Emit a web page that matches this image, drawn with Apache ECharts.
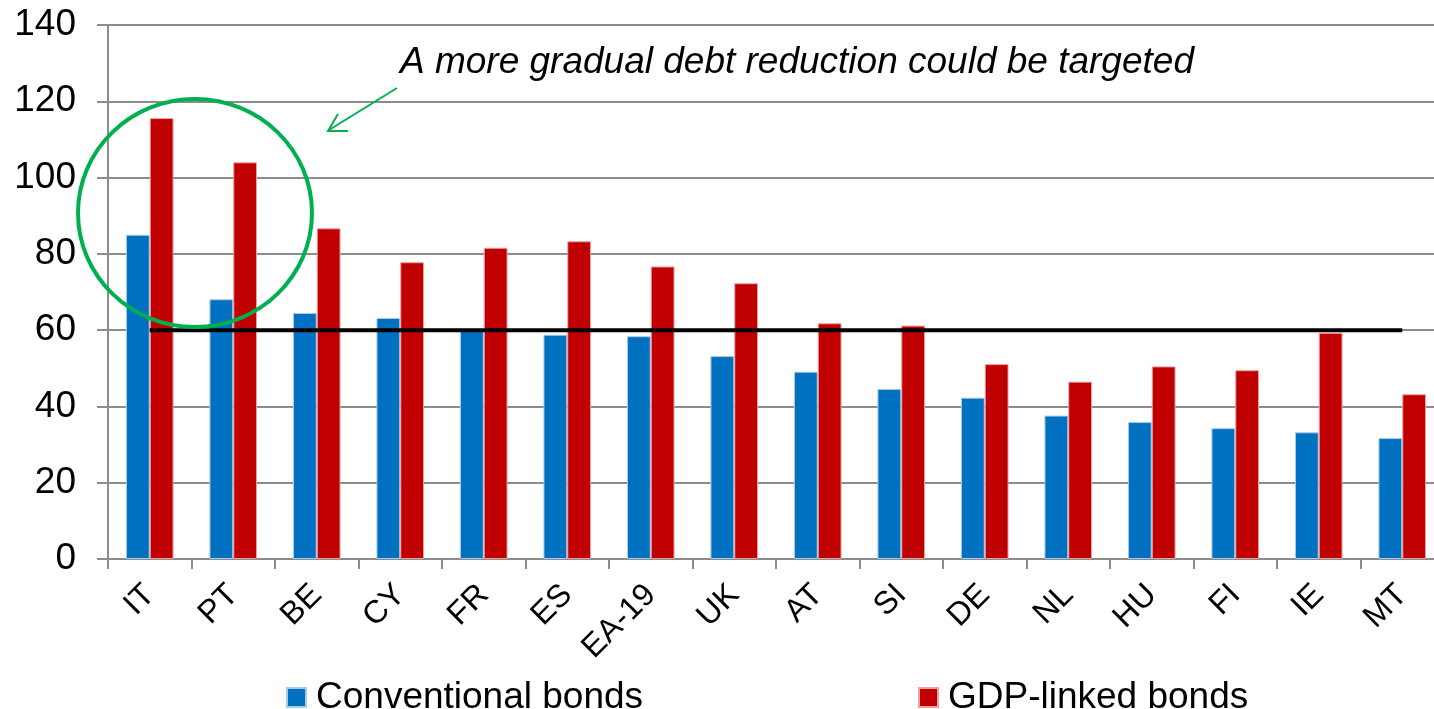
<!DOCTYPE html>
<html>
<head>
<meta charset="utf-8">
<script src="https://cdn.jsdelivr.net/npm/echarts@6/dist/echarts.min.js"></script>
<style>
  html, body { margin: 0; padding: 0; background: #fff; }
  #chart { width: 1434px; height: 709px; }
</style>
</head>
<body>
<div id="chart"></div>
<script>
// Debt ratios under conventional vs GDP-linked bonds, with the 60% reference level
const countries = ['IT', 'PT', 'BE', 'CY', 'FR', 'ES', 'EA-19', 'UK', 'AT', 'SI', 'DE', 'NL', 'HU', 'FI', 'IE', 'MT'];
const conventional = [85, 68.1, 64.5, 63.2, 59.8, 58.8, 58.4, 53.2, 49.1, 44.6, 42.3, 37.6, 35.9, 34.3, 33.2, 31.7];
const gdpLinked = [115.6, 104, 86.7, 77.8, 81.6, 83.3, 76.7, 72.3, 61.8, 61.2, 51.1, 46.5, 50.5, 49.5, 59.3, 43.2];
const threshold = 60;
const yTicks = { min: 0, max: 140, step: 20 };
const seriesNames = ['Conventional bonds', 'GDP-linked bonds'];
const note = 'A more gradual debt reduction could be targeted';

const FONT = '"Liberation Sans", Arial, sans-serif';
const GRID = '#8c8c8c';
const GREEN = '#00b050';

const legendText = { fontFamily: FONT, fontSize: 37, color: '#000', lineHeight: 37, padding: [0, 0, 0, 5] };

const chart = echarts.init(document.getElementById('chart'));
chart.setOption({
  animation: false,
  backgroundColor: '#fff',
  grid: { left: 108, right: -10, top: 25, bottom: 150, containLabel: false, outerBoundsMode: 'none' },
  legend: [
    {
      data: [seriesNames[0]], left: 286, top: 679, padding: 0,
      icon: 'rect', itemWidth: 19, itemHeight: 19, textStyle: legendText
    },
    {
      data: [seriesNames[1]], left: 918, top: 679, padding: 0,
      icon: 'rect', itemWidth: 19, itemHeight: 19, textStyle: legendText
    }
  ],
  xAxis: {
    type: 'category',
    data: countries,
    axisLine: { lineStyle: { color: GRID, width: 2 } },
    axisTick: { show: true, length: 10, lineStyle: { color: GRID, width: 2 } },
    axisLabel: { rotate: 45, margin: 31, fontFamily: FONT, fontSize: 32, color: '#000' },
    splitLine: { show: false }
  },
  yAxis: {
    type: 'value',
    min: yTicks.min, max: yTicks.max, interval: yTicks.step,
    axisLine: { show: true, lineStyle: { color: GRID, width: 2 } },
    axisTick: { show: true, length: 11, lineStyle: { color: GRID, width: 2 } },
    axisLabel: { margin: 32, fontFamily: FONT, fontSize: 37, color: '#000' },
    splitLine: { show: true, lineStyle: { color: GRID, width: 2 } }
  },
  series: [
    {
      name: seriesNames[0], type: 'bar', data: conventional,
      barGap: '0%', barCategoryGap: '43%',
      itemStyle: { color: '#0070c0', borderColor: '#a9cbe8', borderWidth: 1 }
    },
    {
      name: seriesNames[1], type: 'bar', data: gdpLinked,
      barGap: '0%', barCategoryGap: '43%',
      itemStyle: { color: '#c00000', borderColor: '#eda3a3', borderWidth: 1 }
    },
    {
      name: 'threshold', type: 'line', data: countries.map(() => threshold),
      symbol: 'none', z: 5,
      lineStyle: { color: '#000', width: 4 }
    }
  ],
  graphic: [
    {
      type: 'ellipse', z: 10,
      shape: { cx: 195, cy: 213, rx: 117, ry: 114 },
      style: { fill: 'none', stroke: GREEN, lineWidth: 4 }
    },
    {
      type: 'polyline', z: 10,
      shape: { points: [[397, 88], [329, 130]] },
      style: { fill: 'none', stroke: GREEN, lineWidth: 2 }
    },
    {
      type: 'polyline', z: 10,
      shape: { points: [[338, 114], [328, 131], [348, 131]] },
      style: { fill: 'none', stroke: GREEN, lineWidth: 2 }
    },
    {
      type: 'text', z: 10,
      style: {
        x: 400, y: 63, text: note,
        font: 'italic 37px ' + FONT,
        fill: '#000', textVerticalAlign: 'middle'
      }
    }
  ]
});
</script>
</body>
</html>
